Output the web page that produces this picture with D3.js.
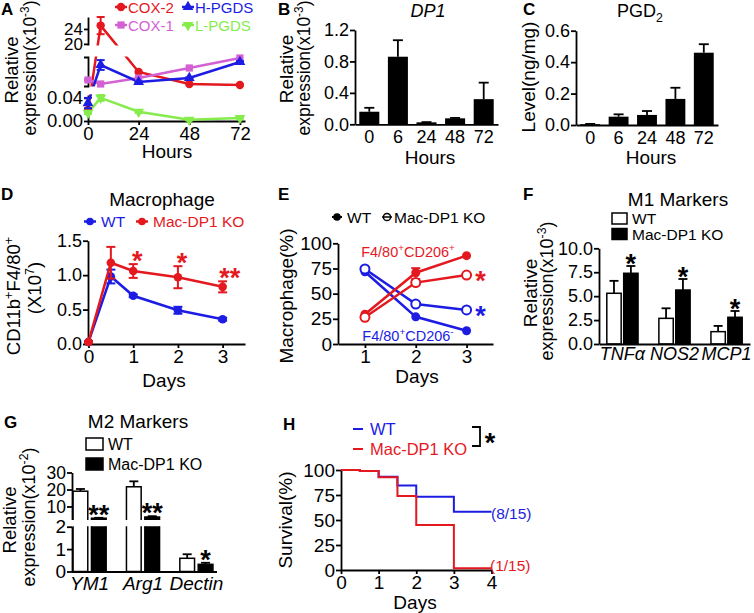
<!DOCTYPE html>
<html><head><meta charset="utf-8">
<script src="https://cdn.jsdelivr.net/npm/d3@7/dist/d3.min.js"></script>
<style>
html,body{margin:0;padding:0;background:#fff;}
svg{display:block;}
</style></head><body>
<svg id="chart" width="754" height="613"></svg>
<script>
// ================= DATA =================
// Panel A (broken y-axis; middle segment unlabeled)
const hoursA = [0, 6, 24, 48, 72];
const ticksAx = [0, 24, 48, 72];
const ticksAtop = [20, 24];
const ticksAbottom = [0, 0.04];
const cox2A = [0.019, 24.9, 0.51, 0.116, 0.083];
const cox2ErrA = [0, 2.3, 0, 0, 0];
const cox1A = [0.247, 0.116, 0.312, 0.64, 0.967];
const cox1ErrA = [0.03, 0, 0, 0, 0];
const hpgdsA = [0.031, 0.738, 0.181, 0.312, 0.836];
const hpgdsErrA = [0.009, 0.16, 0.02, 0.02, 0.03];
const lpgdsA = [0.014, 0.040, 0.016, 0.002, 0.005];
const lpgdsErrA = [0.002, 0.005, 0.002, 0.001, 0.001];
const namesA = ["COX-2", "COX-1", "H-PGDS", "L-PGDS"];
// Panel B
const hoursB = ["0", "6", "24", "48", "72"];
const ticksB = [0, 0.4, 0.8, 1.2];
const dp1B = [0.16, 0.86, 0.025, 0.076, 0.32];
const dp1ErrB = [0.05, 0.21, 0.003, 0.005, 0.21];
// Panel C
const ticksC = [0, 0.2, 0.4, 0.6];
const pgd2C = [0.005, 0.053, 0.064, 0.166, 0.46];
const pgd2ErrC = [0.002, 0.015, 0.025, 0.071, 0.054];
// Panel D
const daysD = [0, 0.5, 1, 2, 3];
const ticksDx = [0, 1, 2, 3];
const ticksDy = [0, 0.5, 1.0, 1.5];
const wtD = [0.03, 0.98, 0.70, 0.49, 0.36];
const wtErrD = [0.01, 0.10, 0.02, 0.05, 0.02];
const koD = [0.03, 1.18, 1.06, 0.97, 0.83];
const koErrD = [0.01, 0.23, 0.10, 0.16, 0.08];
const starsD = ["", "", "*", "*", "**"];
// Panel E
const daysE = [1, 2, 3];
const ticksEy = [0, 25, 50, 75, 100];
const wtPosE = [29.5, 70.8, 87.7];
const wtPosErrE = [1, 4.5, 1];
const koPosE = [26.5, 61, 68.5];
const koPosErrE = [1, 3.5, 1.5];
const wtNegE = [71.8, 27, 13.2];
const koNegE = [74.5, 39.7, 33.8];
// Panel F
const genesF = ["TNFα", "NOS2", "MCP1"];
const ticksF = [0, 2.5, 5, 7.5, 10];
const wtF = [5.3, 2.68, 1.29];
const wtErrF = [1.3, 1.05, 0.6];
const koF = [7.39, 5.64, 2.79];
const koErrF = [0.76, 1.15, 0.66];
const starsF = ["*", "*", "*"];
// Panel G (broken y-axis)
const genesG = ["YM1", "Arg1", "Dectin"];
const ticksGtop = [10, 20, 30];
const ticksGbottom = [0, 1, 2];
const wtG = [19.0, 21.6, 0.59];
const wtErrG = [1.3, 3.2, 0.18];
const koG = [3.1, 3.8, 0.32];
const koErrG = [0.25, 0.5, 0.07];
const starsG = ["**", "**", "*"];
// Panel H (Kaplan-Meier)
const ticksHx = [0, 1, 2, 3, 4];
const ticksHy = [0, 25, 50, 75, 100];
const wtDaysH = [0, 0.5, 1, 1.5, 2, 3, 4];
const wtSurvH = [100, 99, 93.3, 84.5, 73.3, 58.3, 58.3];
const koDaysH = [0, 0.5, 1, 1.5, 2, 3, 4];
const koSurvH = [100, 99, 92.7, 74, 45, 1.7, 1.7];
const groupLabels = ["WT", "Mac-DP1 KO"];

// ================= HELPERS =================
const svg = d3.select("#chart");
const defs = svg.append("defs");
const FONT = '"Liberation Sans", Arial, Helvetica, sans-serif';
const RED = "#e3191f", BLUE = "#1c1ce3", PINK = "#d461d4", GREEN = "#86ec4c";
const AX = 1.8;
const fInt = d3.format("d");

function styleAxis(g, fs = 18) {
  g.attr("font-family", FONT).attr("font-size", fs);
  g.selectAll("path.domain").attr("stroke", "#000").attr("stroke-width", AX);
  g.selectAll(".tick line").attr("stroke", "#000").attr("stroke-width", AX);
  g.selectAll(".tick text").attr("fill", "#000");
  return g;
}
function rich(t, parts, fs) {
  let shift = 0;
  parts.forEach(p => {
    const [s, kind] = Array.isArray(p) ? p : [p, "n"];
    const target = kind === "sup" ? -0.4 * fs : kind === "sub" ? 0.28 * fs : 0;
    const ts = t.append("tspan").text(s).attr("dy", target - shift);
    if (kind !== "n") ts.attr("font-size", 0.68 * fs);
    shift = target;
  });
}
function label(x, y, parts, opt = {}) {
  const fs = opt.fs || 18;
  const t = svg.append("text").attr("x", x).attr("y", y)
    .attr("font-family", FONT).attr("font-size", fs)
    .attr("text-anchor", opt.anchor || "middle")
    .attr("fill", opt.color || "#000");
  if (opt.bold) t.attr("font-weight", "bold");
  if (opt.italic) t.attr("font-style", "italic");
  rich(t, typeof parts === "string" ? [parts] : parts, fs);
  return t;
}
function vlabel(x, y, parts, opt = {}) {
  const fs = opt.fs || 18;
  const t = svg.append("text").attr("transform", `translate(${x},${y}) rotate(-90)`)
    .attr("font-family", FONT).attr("font-size", fs)
    .attr("text-anchor", "middle").attr("fill", opt.color || "#000");
  rich(t, typeof parts === "string" ? [parts] : parts, fs);
}
function letter(x, y, s) { label(x, y, s, { fs: 17, bold: true, anchor: "start" }); }
function star(x, cy, s, color) {
  svg.append("text").attr("x", x).attr("y", cy + 15).attr("text-anchor", "middle")
    .attr("font-family", FONT).attr("font-weight", "bold").attr("font-size", 27)
    .attr("fill", color || "#000").text(s);
}
function err(g, x, y1, y2, cap, color, sw) {
  g.append("line").attr("x1", x).attr("x2", x).attr("y1", y1).attr("y2", y2)
    .attr("stroke", color).attr("stroke-width", sw);
  g.append("line").attr("x1", x - cap).attr("x2", x + cap).attr("y1", y2).attr("y2", y2)
    .attr("stroke", color).attr("stroke-width", sw);
}
function marker(g, type, x, y, color, s) {
  if (type === "circle") {
    g.append("circle").attr("cx", x).attr("cy", y).attr("r", s).attr("fill", color);
  } else if (type === "open") {
    g.append("circle").attr("cx", x).attr("cy", y).attr("r", s).attr("fill", "#fff")
      .attr("stroke", color).attr("stroke-width", 2);
  } else if (type === "square") {
    g.append("rect").attr("x", x - s).attr("y", y - s).attr("width", 2 * s).attr("height", 2 * s).attr("fill", color);
  } else {
    g.append("path").attr("d", d3.symbol(d3.symbolTriangle, s * s * 2.6)())
      .attr("transform", `translate(${x},${y})` + (type === "tridown" ? " rotate(180)" : ""))
      .attr("fill", color);
  }
}
function clipRect(id, x, y, w, h) {
  defs.append("clipPath").attr("id", id).append("rect")
    .attr("x", x).attr("y", y).attr("width", w).attr("height", h);
}

// ================= PANEL A =================
{
  const x = d3.scaleLinear().domain([0, 74.4]).range([88, 245]);
  const y = d3.scaleLinear().domain([0, 0.045, 0.05, 1.0, 19.7, 27.2]).range([121, 95, 86, 57, 45, 17]);
  const segs = [
    { dom: [0, 0.045], rng: [121, 95], ticks: ticksAbottom, fmt: d3.format(".2f"), outer: 0, clip: [94.5, 40] },
    { dom: [0.05, 1.0], rng: [86, 57], ticks: [], fmt: null, outer: 4, clip: [56.5, 30] },
    { dom: [19.7, 27.2], rng: [45, 17], ticks: ticksAtop, fmt: fInt, outer: 0, clip: [0, 45.5] }
  ];
  segs.forEach((s, i) => {
    const sc = d3.scaleLinear().domain(s.dom).range(s.rng);
    const ax = d3.axisLeft(sc).tickValues(s.ticks).tickSize(4).tickSizeOuter(s.outer).tickPadding(1);
    if (s.fmt) ax.tickFormat(s.fmt);
    styleAxis(svg.append("g").attr("transform", "translate(88,0)").call(ax), i === 2 ? 17 : 18.5);
    clipRect("clipA" + i, 86, s.clip[0], 170, s.clip[1]);
  });
  styleAxis(svg.append("g").attr("transform", "translate(0,121)")
    .call(d3.axisBottom(x).tickValues(ticksAx).tickFormat(fInt).tickSize(4).tickSizeOuter(0).tickPadding(2)), 18.5);

  const series = [
    { v: cox2A, e: cox2ErrA, c: RED, m: "circle", s: 4.2 },
    { v: cox1A, e: cox1ErrA, c: PINK, m: "square", s: 3.6 },
    { v: hpgdsA, e: hpgdsErrA, c: BLUE, m: "tri", s: 4.4 },
    { v: lpgdsA, e: lpgdsErrA, c: GREEN, m: "tridown", s: 4.4 }
  ];
  const line = d3.line().x((d, i) => x(hoursA[i])).y(d => y(d));
  const g = svg.append("g");
  series.forEach(sr => {
    segs.forEach((s, i) => {
      g.append("path").attr("d", line(sr.v)).attr("fill", "none").attr("stroke", sr.c)
        .attr("stroke-width", 2.5).attr("clip-path", `url(#clipA${i})`);
    });
  });
  series.forEach(sr => {
    sr.v.forEach((v, i) => {
      if (sr.e[i] > 0) {
        err(g, x(hoursA[i]), y(v), y(v + sr.e[i]), 4, sr.c, 2);
        err(g, x(hoursA[i]), y(v), y(Math.max(0, v - sr.e[i])), 4, sr.c, 2);
      }
      marker(g, sr.m, x(hoursA[i]), y(v), sr.c, sr.s);
    });
  });
  // legend
  const leg = [[121, 7, 0], [121, 25, 1], [188, 7, 2], [188, 25, 3]];
  leg.forEach(([lx, ly, k]) => {
    const sr = series[k];
    g.append("line").attr("x1", lx - 6).attr("x2", lx + 6).attr("y1", ly).attr("y2", ly)
      .attr("stroke", sr.c).attr("stroke-width", 2.5);
    marker(g, sr.m, lx, ly, sr.c, sr.s);
    label(lx + 7, ly + 5.5, namesA[k], { fs: 15, anchor: "start", color: sr.c });
  });
  letter(1, 15, "A");
  vlabel(18, 70, "Relative", { fs: 18.5 });
  vlabel(36, 68, ["expression(x10", ["-3", "sup"], ")"], { fs: 17.5 });
  label(167, 158, "Hours", { fs: 19 });
}

// ================= PANEL B =================
{
  const x = d3.scaleBand().domain(hoursB).range([355, 498]).paddingInner(0.3).paddingOuter(0.15);
  const y = d3.scaleLinear().domain([0, 1.2]).range([124.3, 30]);
  styleAxis(svg.append("g").attr("transform", "translate(355,0)")
    .call(d3.axisLeft(y).tickValues(ticksB).tickFormat(d3.format(".1f")).tickSize(5).tickSizeOuter(0).tickPadding(1)));
  const g = svg.append("g");
  hoursB.forEach((h, i) => {
    const cx = x(h) + x.bandwidth() / 2;
    err(g, cx, y(dp1B[i]), y(dp1B[i] + dp1ErrB[i]), 5, "#000", 1.8);
    g.append("rect").attr("x", x(h)).attr("y", y(dp1B[i])).attr("width", x.bandwidth())
      .attr("height", y(0) - y(dp1B[i])).attr("fill", "#000");
  });
  styleAxis(svg.append("g").attr("transform", "translate(0,124.3)")
    .call(d3.axisBottom(x).tickSize(0).tickPadding(6)));
  letter(278, 15, "B");
  label(428, 17, "DP1", { fs: 18, italic: true });
  vlabel(293, 69, "Relative", { fs: 19 });
  vlabel(310, 68, ["expression(x10", ["-3", "sup"], ")"], { fs: 17.5 });
  label(430, 164, "Hours", { fs: 19 });
}

// ================= PANEL C =================
{
  const x = d3.scaleBand().domain(hoursB).range([576, 718]).paddingInner(0.3).paddingOuter(0.15);
  const y = d3.scaleLinear().domain([0, 0.6]).range([125, 30.7]);
  styleAxis(svg.append("g").attr("transform", "translate(576,0)")
    .call(d3.axisLeft(y).tickValues(ticksC).tickFormat(d3.format(".1f")).tickSize(5).tickSizeOuter(0).tickPadding(1)));
  const g = svg.append("g");
  hoursB.forEach((h, i) => {
    const cx = x(h) + x.bandwidth() / 2;
    err(g, cx, y(pgd2C[i]), y(pgd2C[i] + pgd2ErrC[i]), 5, "#000", 1.8);
    g.append("rect").attr("x", x(h)).attr("y", y(pgd2C[i])).attr("width", x.bandwidth())
      .attr("height", y(0) - y(pgd2C[i])).attr("fill", "#000");
  });
  styleAxis(svg.append("g").attr("transform", "translate(0,125)")
    .call(d3.axisBottom(x).tickSize(0).tickPadding(6)));
  letter(523, 15, "C");
  label(640, 17, ["PGD", ["2", "sub"]], { fs: 18 });
  vlabel(535, 77, "Level(ng/mg)", { fs: 19 });
  label(651, 164, "Hours", { fs: 19 });
}

// ================= PANEL D =================
{
  const x = d3.scaleLinear().domain([0, 3.5]).range([88.5, 245]);
  const y = d3.scaleLinear().domain([0, 1.5]).range([344, 240.7]);
  styleAxis(svg.append("g").attr("transform", "translate(88,0)")
    .call(d3.axisLeft(y).tickValues(ticksDy).tickFormat(d3.format(".1f")).tickSize(5).tickSizeOuter(0).tickPadding(1)));
  styleAxis(svg.append("g").attr("transform", "translate(0,344)")
    .call(d3.axisBottom(x).tickValues(ticksDx).tickFormat(fInt).tickSize(4).tickSizeOuter(0).tickPadding(2)), 19);
  const g = svg.append("g");
  const line = d3.line().x((d, i) => x(daysD[i])).y(d => y(d));
  [[wtD, wtErrD, BLUE], [koD, koErrD, RED]].forEach(([v, e, c]) => {
    g.append("path").attr("d", line(v)).attr("fill", "none").attr("stroke", c).attr("stroke-width", 2.5);
    v.forEach((d, i) => {
      err(g, x(daysD[i]), y(d), y(d + e[i]), 4.5, c, 2);
      err(g, x(daysD[i]), y(d), y(d - e[i]), 4.5, c, 2);
      marker(g, "circle", x(daysD[i]), y(d), c, 4.3);
    });
  });
  starsD.forEach((s, i) => {
    if (s) star(x(daysD[i]) + (s.length > 1 ? 7 : 4), y(koD[i] + koErrD[i]) - 9, s, RED);
  });
  // legend
  [[90, 0, BLUE], [142, 1, RED]].forEach(([lx, k, c]) => {
    g.append("line").attr("x1", lx - 6).attr("x2", lx + 6).attr("y1", 221.5).attr("y2", 221.5)
      .attr("stroke", c).attr("stroke-width", 2.5);
    marker(g, "circle", lx, 221.5, c, 3.8);
    label(lx + 11, 227, groupLabels[k], { fs: 15.5, anchor: "start", color: c });
  });
  letter(1, 200, "D");
  label(162, 206, "Macrophage", { fs: 19 });
  vlabel(20, 296, ["CD11b", ["+", "sup"], "F4/80", ["+", "sup"]], { fs: 18.5 });
  vlabel(41, 288, ["(X10", ["7", "sup"], ")"], { fs: 18.5 });
  label(164, 387, "Days", { fs: 19 });
}

// ================= PANEL E =================
{
  const x = d3.scaleLinear().domain([0.47, 3.52]).range([338, 493]);
  const y = d3.scaleLinear().domain([0, 100]).range([344, 243.3]);
  styleAxis(svg.append("g").attr("transform", "translate(338,0)")
    .call(d3.axisLeft(y).tickValues(ticksEy).tickFormat(fInt).tickSize(5).tickSizeOuter(0).tickPadding(1)), 19);
  styleAxis(svg.append("g").attr("transform", "translate(0,344)")
    .call(d3.axisBottom(x).tickValues(daysE).tickFormat(fInt).tickSize(4).tickSizeOuter(0).tickPadding(2)), 19);
  const g = svg.append("g");
  const line = d3.line().x((d, i) => x(daysE[i])).y(d => y(d));
  const ser = [
    [wtNegE, null, BLUE, "circle"], [koNegE, null, BLUE, "open"],
    [wtPosE, wtPosErrE, RED, "circle"], [koPosE, koPosErrE, RED, "open"]
  ];
  ser.forEach(([v, e, c]) => {
    g.append("path").attr("d", line(v)).attr("fill", "none").attr("stroke", c).attr("stroke-width", 2.5);
  });
  ser.forEach(([v, e, c, m]) => {
    v.forEach((d, i) => {
      if (e && e[i] > 1.5) err(g, x(daysE[i]), y(d), y(d + e[i]), 4.5, c, 2);
      marker(g, m, x(daysE[i]), y(d), c, 4.5);
    });
  });
  star(x(3) + 14, y(koPosE[2]), "*", RED);
  star(x(3) + 14, y(koNegE[2]), "*", BLUE);
  label(408, 257, ["F4/80", ["+", "sup"], "CD206", ["+", "sup"]], { fs: 14.5, color: RED });
  label(408, 341, ["F4/80", ["+", "sup"], "CD206", ["-", "sup"]], { fs: 14.5, color: BLUE });
  // legend
  g.append("line").attr("x1", 332).attr("x2", 342).attr("y1", 217).attr("y2", 217).attr("stroke", "#000").attr("stroke-width", 2);
  marker(g, "circle", 337, 217, "#000", 3.8);
  label(347, 222.5, groupLabels[0], { fs: 15.5, anchor: "start" });
  g.append("circle").attr("cx", 387).attr("cy", 217).attr("r", 3.6).attr("fill", "#fff").attr("stroke", "#000").attr("stroke-width", 1.5);
  g.append("line").attr("x1", 382).attr("x2", 392).attr("y1", 217).attr("y2", 217).attr("stroke", "#000").attr("stroke-width", 1.5);
  label(394, 222.5, groupLabels[1], { fs: 15.5, anchor: "start" });
  letter(278, 200, "E");
  vlabel(293, 296, "Macrophage(%)", { fs: 19 });
  label(417, 383, "Days", { fs: 19 });
}

// ================= PANEL F =================
{
  const x0 = d3.scaleBand().domain(genesF).range([599, 750]).paddingInner(0.4).paddingOuter(0.15);
  const x1 = d3.scaleBand().domain(groupLabels).range([0, x0.bandwidth()]).paddingInner(0.15);
  const y = d3.scaleLinear().domain([0, 10]).range([344, 248.3]);
  styleAxis(svg.append("g").attr("transform", "translate(599,0)")
    .call(d3.axisLeft(y).tickValues(ticksF).tickFormat(d3.format(".1f")).tickSize(5).tickSizeOuter(0).tickPadding(1)));
  const g = svg.append("g");
  genesF.forEach((gn, i) => {
    [[wtF, wtErrF, "#fff"], [koF, koErrF, "#000"]].forEach(([v, e, fill], k) => {
      const bx = x0(gn) + x1(groupLabels[k]);
      const cx = bx + x1.bandwidth() / 2;
      err(g, cx, y(v[i]), y(v[i] + e[i]), 4.5, "#000", 1.8);
      g.append("rect").attr("x", bx).attr("y", y(v[i])).attr("width", x1.bandwidth())
        .attr("height", y(0) - y(v[i])).attr("fill", fill).attr("stroke", "#000").attr("stroke-width", 1.5);
    });
    const kx = x0(gn) + x1(groupLabels[1]) + x1.bandwidth() / 2;
    star(kx, y(koF[i] + koErrF[i]) - 8, starsF[i], "#000");
  });
  const xa = svg.append("g").attr("transform", "translate(0,344)")
    .call(d3.axisBottom(x0).tickSize(0).tickPadding(3));
  styleAxis(xa);
  xa.selectAll(".tick text").attr("font-style", "italic");
  // legend
  g.append("rect").attr("x", 612).attr("y", 213).attr("width", 15).attr("height", 11).attr("fill", "#fff").attr("stroke", "#000").attr("stroke-width", 1.5);
  g.append("rect").attr("x", 612).attr("y", 228.5).attr("width", 15).attr("height", 11).attr("fill", "#000").attr("stroke", "#000").attr("stroke-width", 1.5);
  label(632, 224, groupLabels[0], { fs: 15.5, anchor: "start" });
  label(632, 239.5, groupLabels[1], { fs: 15.5, anchor: "start" });
  letter(523, 200, "F");
  label(678, 206, "M1 Markers", { fs: 19 });
  vlabel(537, 293, "Relative", { fs: 19 });
  vlabel(553, 291, ["expression(x10", ["-3", "sup"], ")"], { fs: 18 });
}

// ================= PANEL G =================
{
  const x0 = d3.scaleBand().domain(genesG).range([72, 214]).paddingInner(0.38).paddingOuter(0.02);
  const x1 = d3.scaleBand().domain(groupLabels).range([0, x0.bandwidth()]).paddingInner(0.2);
  const y = d3.scaleLinear().domain([0, 2, 2.4, 30]).range([571.5, 526.7, 519.4, 472.5]);
  const segs = [
    { dom: [0, 2], rng: [571.5, 526.7], ticks: ticksGbottom, clip: [526.2, 50] },
    { dom: [2.4, 30], rng: [519.4, 472.5], ticks: ticksGtop, clip: [440, 79.9] }
  ];
  segs.forEach((s, i) => {
    const sc = d3.scaleLinear().domain(s.dom).range(s.rng);
    styleAxis(svg.append("g").attr("transform", "translate(72,0)")
      .call(d3.axisLeft(sc).tickValues(s.ticks).tickFormat(fInt).tickSize(5).tickSizeOuter(0).tickPadding(1)), i === 1 ? 17.5 : 19);
    clipRect("clipG" + i, 60, s.clip[0], 170, s.clip[1]);
  });
  const g = svg.append("g");
  genesG.forEach((gn, i) => {
    [[wtG, wtErrG, "#fff"], [koG, koErrG, "#000"]].forEach(([v, e, fill], k) => {
      const bx = x0(gn) + x1(groupLabels[k]);
      const cx = bx + x1.bandwidth() / 2;
      err(g, cx, y(v[i]), y(v[i] + e[i]), 4.5, "#000", 1.8);
      segs.forEach((s, j) => {
        g.append("rect").attr("x", bx).attr("y", y(v[i])).attr("width", x1.bandwidth())
          .attr("height", y(0) - y(v[i])).attr("fill", fill).attr("stroke", "#000")
          .attr("stroke-width", 1.5).attr("clip-path", `url(#clipG${j})`);
      });
    });
    const kx = x0(gn) + x1(groupLabels[1]) + x1.bandwidth() / 2;
    star(kx, y(koG[i] + koErrG[i]) - 9, starsG[i], "#000");
  });
  const xa = svg.append("g").attr("transform", "translate(0,571.5)")
    .call(d3.axisBottom(x0).tickSize(0).tickPadding(5));
  styleAxis(xa, 19);
  xa.select("path.domain").attr("d", "M72,0.5H217");
  xa.selectAll(".tick text").attr("font-style", "italic");
  // legend
  g.append("rect").attr("x", 86).attr("y", 438).attr("width", 17).attr("height", 12).attr("fill", "#fff").attr("stroke", "#000").attr("stroke-width", 1.5);
  g.append("rect").attr("x", 86).attr("y", 458).attr("width", 17).attr("height", 12).attr("fill", "#000").attr("stroke", "#000").attr("stroke-width", 1.5);
  label(108, 450, groupLabels[0], { fs: 16, anchor: "start" });
  label(108, 470, groupLabels[1], { fs: 16, anchor: "start" });
  letter(4, 428, "G");
  label(138, 428, "M2 Markers", { fs: 19 });
  vlabel(16, 520, "Relative", { fs: 18.5 });
  vlabel(35, 517, ["expression(x10", ["-2", "sup"], ")"], { fs: 18 });
}

// ================= PANEL H =================
{
  const x = d3.scaleLinear().domain([0, 4]).range([341, 491.5]);
  const y = d3.scaleLinear().domain([0, 100]).range([570, 470]);
  styleAxis(svg.append("g").attr("transform", "translate(341,0)")
    .call(d3.axisLeft(y).tickValues(ticksHy).tickFormat(fInt).tickSize(5).tickSizeOuter(0).tickPadding(1)), 19);
  styleAxis(svg.append("g").attr("transform", "translate(0,570)")
    .call(d3.axisBottom(x).tickValues(ticksHx).tickFormat(fInt).tickSize(4).tickSizeOuter(0).tickPadding(2)), 19);
  const g = svg.append("g");
  const step = (days) => d3.line().curve(d3.curveStepAfter).x((d, i) => x(days[i])).y(d => y(d));
  g.append("path").attr("d", step(wtDaysH)(wtSurvH)).attr("fill", "none").attr("stroke", BLUE).attr("stroke-width", 2);
  g.append("path").attr("d", step(koDaysH)(koSurvH)).attr("fill", "none").attr("stroke", RED).attr("stroke-width", 2);
  label(491, 519, "(8/15)", { fs: 15.5, anchor: "start", color: BLUE });
  label(490, 571, "(1/15)", { fs: 15.5, anchor: "start", color: RED });
  // legend
  g.append("line").attr("x1", 353).attr("x2", 363).attr("y1", 429).attr("y2", 429).attr("stroke", BLUE).attr("stroke-width", 2);
  g.append("line").attr("x1", 353).attr("x2", 363).attr("y1", 449).attr("y2", 449).attr("stroke", RED).attr("stroke-width", 2);
  label(370, 435, groupLabels[0], { fs: 16.5, anchor: "start", color: BLUE });
  label(370, 455, groupLabels[1], { fs: 16.5, anchor: "start", color: RED });
  g.append("path").attr("d", "M472,427H480V446H472").attr("fill", "none").attr("stroke", "#000").attr("stroke-width", 1.8);
  star(490, 437, "*", "#000");
  letter(283, 430, "H");
  vlabel(292, 520, "Survival(%)", { fs: 19 });
  label(415, 609, "Days", { fs: 19 });
}
</script>
</body></html>
